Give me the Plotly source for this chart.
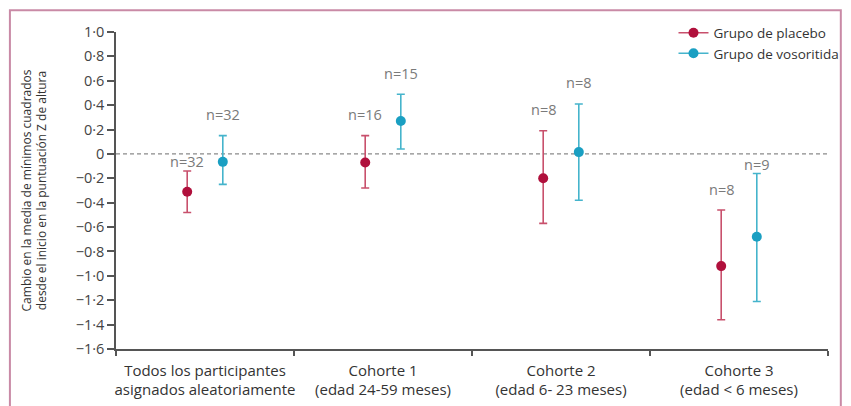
import plotly.graph_objects as go

categories = ["Todos los participantes<br>asignados aleatoriamente",
              "Cohorte 1<br>(edad 24-59 meses)",
              "Cohorte 2<br>(edad 6- 23 meses)",
              "Cohorte 3<br>(edad < 6 meses)"]

placebo_mean = [-0.31, -0.07, -0.20, -0.92]
placebo_upper = [-0.14, 0.15, 0.19, -0.46]
placebo_lower = [-0.48, -0.28, -0.57, -1.36]
placebo_n = ["n=32", "n=16", "n=8", "n=8"]

voso_mean = [-0.065, 0.27, 0.015, -0.68]
voso_upper = [0.15, 0.49, 0.41, -0.16]
voso_lower = [-0.25, 0.04, -0.38, -1.21]
voso_n = ["n=32", "n=15", "n=8", "n=9"]

ytick_vals = [1.0, 0.8, 0.6, 0.4, 0.2, 0, -0.2, -0.4, -0.6, -0.8, -1.0, -1.2, -1.4, -1.6]
ytick_text = ["1·0", "0·8", "0·6", "0·4", "0·2", "0", "−0·2", "−0·4", "−0·6", "−0·8",
              "−1·0", "−1·2", "−1·4", "−1·6"]

# styling
offset = 0.1
plc_marker = "#b0103c"
plc_err = "#c8506c"
vos_marker = "#1a9fc2"
vos_err = "#45b4cc"
font_family = "'Open Sans', sans-serif"
placebo_label_shift = [9, 21, 21, 21]
voso_label_shift = [21, 21, 21, 9]

idx = list(range(len(categories)))
fig = go.Figure()

def add_group(xs, mean, upper, lower, mcol, ecol):
    fig.add_trace(go.Scatter(
        x=xs, y=mean, mode="markers", showlegend=False,
        marker=dict(color=mcol, size=10),
        error_y=dict(type="data", symmetric=False,
                     array=[u - m for u, m in zip(upper, mean)],
                     arrayminus=[m - l for m, l in zip(mean, lower)],
                     color=ecol, thickness=1.6, width=4),
    ))

px = [i - offset for i in idx]
vx = [i + offset for i in idx]
add_group(px, placebo_mean, placebo_upper, placebo_lower, plc_marker, plc_err)
add_group(vx, voso_mean, voso_upper, voso_lower, vos_marker, vos_err)

# legend entries
fig.add_trace(go.Scatter(x=[None], y=[None], mode="lines+markers", name="Grupo de placebo",
                         line=dict(color=plc_err, width=1.6), marker=dict(color=plc_marker, size=10)))
fig.add_trace(go.Scatter(x=[None], y=[None], mode="lines+markers", name="Grupo de vosoritida",
                         line=dict(color=vos_err, width=1.6), marker=dict(color=vos_marker, size=10)))

for xs, ups, labels, shifts in [(px, placebo_upper, placebo_n, placebo_label_shift),
                                (vx, voso_upper, voso_n, voso_label_shift)]:
    for x, u, t, s in zip(xs, ups, labels, shifts):
        fig.add_annotation(x=x, y=u, text=t, showarrow=False, yshift=s,
                           font=dict(size=14.5, color="#7a7a7a", family=font_family))

# zero reference line
fig.add_shape(type="line", xref="paper", x0=0, x1=1, yref="y", y0=0, y1=0,
              line=dict(color="#8a8a8a", width=1.3, dash="4px,3px"), layer="below")

# outer pink frame
fig.add_shape(type="rect", xref="paper", yref="paper",
              x0=-0.149, x1=1.018, y0=-0.2, y1=1.069,
              line=dict(color="#c98aa6", width=2))

fig.update_layout(
    width=851, height=406,
    margin=dict(l=116, r=23, t=32, b=57, autoexpand=False),
    paper_bgcolor="white", plot_bgcolor="white",
    font=dict(family=font_family, color="#333333", size=13),
    legend=dict(x=0.783, y=1.046, xanchor="left", yanchor="top",
                font=dict(size=13.5, color="#333333", family=font_family),
                bgcolor="rgba(0,0,0,0)", tracegroupgap=0, itemwidth=30),
    xaxis=dict(range=[-0.5, 3.5], tickvals=idx, ticktext=categories,
               showgrid=False, zeroline=False, showline=True, automargin=False,
               linecolor="#555555", linewidth=1.5, ticks="",
               tickfont=dict(size=15, color="#333333"),
               ticklabelstandoff=7,
               minor=dict(tick0=0.5, dtick=1, ticks="outside", ticklen=5,
                          tickcolor="#555555", tickwidth=1.5, showgrid=False)),
    yaxis=dict(range=[-1.6, 1.0], tickvals=ytick_vals, ticktext=ytick_text,
               showgrid=False, zeroline=False, showline=True, automargin=False,
               linecolor="#555555", linewidth=1.5, ticks="outside", ticklen=7,
               tickcolor="#555555", tickwidth=1.5,
               tickfont=dict(size=14.5, color="#444444"),
               title=dict(text="Cambio en la media de mínimos cuadrados<br>desde el inicio en la puntuación Z de altura",
                          font=dict(size=12, color="#333333"), standoff=26)),
)

fig.write_html("out.html", config={"displayModeBar": False},
               post_script="document.body.style.margin='0';")
